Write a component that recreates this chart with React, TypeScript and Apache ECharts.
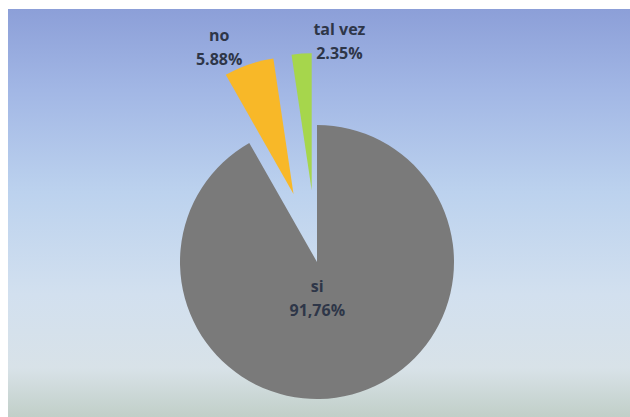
import React, { useEffect, useRef } from "react";
import * as echarts from "echarts";

// ---- data ----
const categories = ["si", "no", "tal vez"];
const values = [91.76, 5.88, 2.35];
const percentLabels = ["91,76%", "5.88%", "2.35%"];
const explodedSlices = [false, true, true];

// ---- styling (kept apart from the data) ----
const sliceColors = ["#7a7a7a", "#f8b828", "#a6d64c"];
// label shift [dx, dy] from the library's default inside position
const labelShifts: number[][] = [
  [-18, -33],
  [-51, -79],
  [33, -78],
];

export default function App() {
  const ref = useRef<HTMLDivElement>(null);

  useEffect(() => {
    if (!ref.current) return;
    const chart = echarts.init(ref.current, undefined, { renderer: "svg" });

    const data = categories.map((name, i) => ({
      name,
      value: values[i],
      selected: explodedSlices[i],
      itemStyle: { color: sliceColors[i] },
      label: {
        formatter: () => `${name}\n${percentLabels[i]}`,
      },
    }));

    chart.setOption({
      animation: false,
      backgroundColor: "#ffffff",
      graphic: [
        {
          type: "rect",
          silent: true,
          z: -10,
          shape: { x: 8, y: 9, width: 622, height: 408 },
          style: {
            fill: new echarts.graphic.LinearGradient(0, 0, 0, 1, [
              { offset: 0, color: "#8c9fd8" },
              { offset: 0.2, color: "#a2b7e5" },
              { offset: 0.45, color: "#bcd2ee" },
              { offset: 0.7, color: "#d2e0ef" },
              { offset: 0.88, color: "#d8e2e8" },
              { offset: 1, color: "#c1cfc8" },
            ]),
          },
        },
      ],
      series: [
        {
          type: "pie",
          center: [317, 262],
          radius: 137,
          startAngle: 90,
          clockwise: true,
          selectedMode: "multiple",
          selectedOffset: 72,
          silent: true,
          avoidLabelOverlap: false,
          itemStyle: { borderWidth: 0 },
          label: {
            show: true,
            position: "inside",
            color: "#2e3648",
            fontFamily: "Open Sans",
            fontWeight: "bold",
            fontSize: 16,
            lineHeight: 24,
            align: "center",
          },
          labelLayout: (p: any) => ({
            dx: labelShifts[p.dataIndex][0],
            dy: labelShifts[p.dataIndex][1],
          }),
          labelLine: { show: false },
          select: { itemStyle: { borderWidth: 0 } },
          data,
        },
      ],
    });

    return () => chart.dispose();
  }, []);

  return (
    <div
      ref={ref}
      style={{
        position: "fixed",
        left: 0,
        top: 0,
        width: 630,
        height: 417,
        background: "#ffffff",
      }}
    />
  );
}
